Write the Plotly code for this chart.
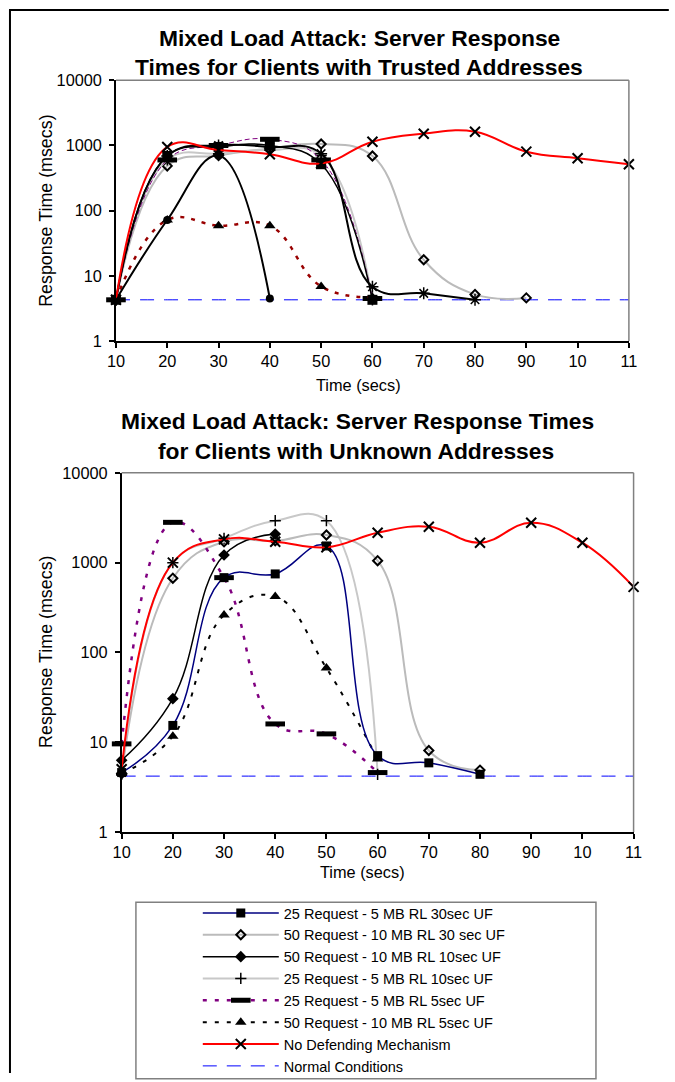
import plotly.graph_objects as go

W, H = 675, 1082
# the photographed page shows up with an 8px frame and shrunk back to W x H;
# these factors map reference pixel positions onto page positions
SX, SY = W / (W + 16), H / (H + 16)
OX, OY = 8 * SX, 8 * SY
FS = 1.02  # font compensation for the shrink

# ---------------- data ----------------
x_ticklabels = ["10", "20", "30", "40", "50", "60", "70", "80", "90", "10", "11"]
x_idx = list(range(11))
y_tickvals = [1, 10, 100, 1000, 10000]
y_ticktext = ["1", "10", "100", "1000", "10000"]

# Top chart: clients with trusted addresses
top_black_sq = [4.3, 690, 950, 1000, 516, 4.3]
top_black_long = [4.3, 690, 1000, 950, 750, 6.8, 5.4, 4.3]
top_gray_diamond = [4.3, 486, 700, 900, 1054, 690, 17.7, 5.2, 4.6]
top_gray_plus = [4.3, 600, 750, 850, 700, 4.3]
top_purple_dash = [4.3, 600, 1000, 1244, 600, 4.5]
top_maroon_tri = [4.3, 72, 59, 59, 6.9, 4.7]
top_black_short = [4.3, 72, 700, 4.5]
top_none = [4.3, 950, 853, 734, 530, 1143, 1515, 1626, 804, 637, 516]
top_normal = [4.3] * 11

# Bottom chart: clients with unknown addresses
bot_25_30s = [4.6, 15.4, 681, 749, 1535, 7.1, 5.9, 4.4]
bot_50_30s = [4.5, 671, 1710, 1750, 2032, 1052, 8.1, 4.9]
bot_50_10s = [6.3, 30.6, 1217, 2081]
bot_25_10s = [4.4, 1000, 1868, 2930, 2930, 4.4]
bot_25_5s = [9.6, 2811, 681, 16, 12.4, 4.6]
bot_50_5s = [4.5, 11.7, 262, 419, 67, 6.5]
bot_none = [5.0, 1000, 1817, 1710, 1483, 2154, 2512, 1668, 2783, 1668, 537]
bot_normal = [4.2] * 11

legend_names = [
    "25 Request - 5 MB RL 30sec UF",
    "50 Request - 10 MB RL 30 sec UF",
    "50 Request - 10 MB RL 10sec UF",
    "25 Request - 5 MB RL 10sec UF",
    "25 Request - 5 MB RL 5sec UF",
    "50 Request - 10 MB RL 5sec UF",
    "No Defending Mechanism",
    "Normal Conditions",
]

FONT = "Liberation Sans, Arial, sans-serif"


def px(xr):
    return ((xr - OX) / SX) / W


def py(yr):
    return 1 - ((yr - OY) / SY) / H


# ---------------- styles ----------------
M_SQ = dict(symbol="square", size=9, color="black")
M_SQ_BIG = dict(symbol="square", size=10, color="black")
M_DO = dict(symbol="diamond-open", size=7, color="black", line=dict(width=2, color="black"))
M_DF = dict(symbol="diamond", size=9, color="black")
M_PL = dict(symbol="cross-thin", size=8, color="black", line=dict(width=1.5, color="black"))
M_DASH = dict(symbol="line-ew", size=14, color="black", line=dict(width=5, color="black"))
M_TRI = dict(symbol="triangle-up", size=10, color="black")
M_X = dict(symbol="x-thin", size=10, color="black", line=dict(width=2, color="black"))
M_AST = dict(symbol="asterisk", size=10, color="black", line=dict(width=1.5, color="black"))
M_CIR = dict(symbol="circle", size=8, color="black")

fig = go.Figure()


def add(y, xa, ya, color, width, marker, dash="solid", name=None, show=False, rank=None, mode="lines+markers"):
    fig.add_trace(go.Scatter(
        x=x_idx[:len(y)], y=y, xaxis=xa, yaxis=ya, mode=mode,
        line=dict(color=color, width=width, dash=dash, shape="spline", smoothing=1.2),
        marker=marker, name=name, showlegend=show, legendrank=rank,
        cliponaxis=False, hoverinfo="skip",
    ))


# top chart
add(top_normal, "x", "y", "#0000FF", 1, None, dash="14px,10px", mode="lines")
add(top_gray_diamond, "x", "y", "#BBBBBB", 2, M_DO)
add(top_gray_plus, "x", "y", "#C8C8C8", 2, M_PL)
add(top_purple_dash, "x", "y", "#800080", 1, M_DASH, dash="5px,3px")
add(top_maroon_tri, "x", "y", "#990000", 2.5, M_TRI, dash="4px,7px")
add(top_black_short, "x", "y", "black", 2, M_CIR)
add(top_black_sq, "x", "y", "black", 1.5, M_SQ_BIG)
add(top_black_long, "x", "y", "black", 2, M_AST)
add(top_none, "x", "y", "#FF0000", 2, M_X)

# bottom chart
add(bot_normal, "x2", "y2", "#0000FF", 1, None, dash="14px,10px", name=legend_names[7], show=True, rank=8, mode="lines")
add(bot_25_10s, "x2", "y2", "#C8C8C8", 2, M_PL, name=legend_names[3], show=True, rank=4)
add(bot_50_30s, "x2", "y2", "#BBBBBB", 2, M_DO, name=legend_names[1], show=True, rank=2)
add(bot_50_5s, "x2", "y2", "black", 2, M_TRI, dash="4px,8px", name=legend_names[5], show=True, rank=6)
add(bot_25_5s, "x2", "y2", "#800080", 2.5, M_DASH, dash="4px,8px", name=legend_names[4], show=True, rank=5)
add(bot_50_10s, "x2", "y2", "black", 1.5, M_DF, name=legend_names[2], show=True, rank=3)
add(bot_25_30s, "x2", "y2", "#000080", 1.5, M_SQ, name=legend_names[0], show=True, rank=1)
add(bot_none, "x2", "y2", "#FF0000", 2, M_X, name=legend_names[6], show=True, rank=7)

# ---------------- axes ----------------
top_x_dom = [px(115), px(629)]
top_y_dom = [py(340.7), py(79.3)]
bot_x_dom = [px(120.7), px(633.7)]
bot_y_dom = [py(832.7), py(472.7)]

xcommon = dict(range=[0, 10], tickmode="array", tickvals=x_idx, ticktext=x_ticklabels,
               ticks="outside", ticklen=5, tickwidth=1.5, tickcolor="black",
               showline=True, linecolor="black", linewidth=1.5, showgrid=False,
               zeroline=False, tickfont=dict(family=FONT, size=16 * FS, color="black"))
ycommon = dict(type="log", range=[0, 4], tickmode="array", tickvals=y_tickvals, ticktext=y_ticktext,
               ticks="outside", ticklen=5, tickwidth=1.5, tickcolor="black",
               showline=True, linecolor="black", linewidth=1.5, showgrid=False,
               zeroline=False, ticklabelstandoff=4,
               tickfont=dict(family=FONT, size=16 * FS, color="black"))

fig.update_layout(
    width=W, height=H, margin=dict(l=0, r=0, t=0, b=0),
    paper_bgcolor="white", plot_bgcolor="white",
    font=dict(family=FONT, color="black"),
    xaxis=dict(domain=top_x_dom, anchor="y", **xcommon),
    yaxis=dict(domain=top_y_dom, anchor="x", **ycommon),
    xaxis2=dict(domain=bot_x_dom, anchor="y2", **xcommon),
    yaxis2=dict(domain=bot_y_dom, anchor="x2", **ycommon),
    legend=dict(x=px(197), y=py(898), xanchor="left", yanchor="top",
                itemwidth=76, font=dict(family=FONT, size=14.5, color="black"),
                bgcolor="rgba(0,0,0,0)", traceorder="normal", tracegroupgap=0),
    showlegend=True,
)

shapes = []
for xa, ya in (("x", "y"), ("x2", "y2")):
    shapes.append(dict(type="line", xref=f"{xa} domain", yref=f"{ya} domain",
                       x0=0, x1=1, y0=1, y1=1, line=dict(color="#808080", width=1.5)))
    shapes.append(dict(type="line", xref=f"{xa} domain", yref=f"{ya} domain",
                       x0=1, x1=1, y0=0, y1=1, line=dict(color="#808080", width=1.5)))
# outer frame (left and top edges)
shapes.append(dict(type="line", xref="paper", yref="paper", x0=1 / W, x1=1 / W, y0=0, y1=1 - 0.5 / H,
                   line=dict(color="black", width=2)))
shapes.append(dict(type="line", xref="paper", yref="paper", x0=0, x1=px(669), y0=1 - 1 / H, y1=1 - 1 / H,
                   line=dict(color="black", width=2)))
# legend box
shapes.append(dict(type="rect", xref="paper", yref="paper", x0=px(135), x1=px(596),
                   y0=py(1080), y1=py(903), line=dict(color="#808080", width=1.5)))
fig.update_layout(shapes=shapes)

ann = []


def text(s, xr, yr, size, bold=False, angle=0):
    ann.append(dict(text=f"<b>{s}</b>" if bold else s, x=px(xr), y=py(yr), xref="paper", yref="paper",
                    xanchor="center", yanchor="middle", showarrow=False, textangle=angle,
                    font=dict(family=FONT, size=size * FS, color="black")))


text("Mixed Load Attack: Server Response", 359, 37, 22.4, bold=True)
text("Times for Clients with Trusted Addresses", 359, 66, 22.4, bold=True)
text("Mixed Load Attack: Server Response Times", 357, 421, 22.4, bold=True)
text("for Clients with Unknown Addresses", 356, 451, 22.4, bold=True)
text("Response Time (msecs)", 45, 210, 17.5, angle=-90)
text("Response Time (msecs)", 45, 652, 17.5, angle=-90)
text("Time (secs)", 358, 385, 16)
text("Time (secs)", 362, 873, 16)
fig.update_layout(annotations=ann)

fig.write_html(
    "out.html",
    config={"displayModeBar": False},
    post_script="document.body.style.margin='0';document.documentElement.style.overflow='hidden';",
)
